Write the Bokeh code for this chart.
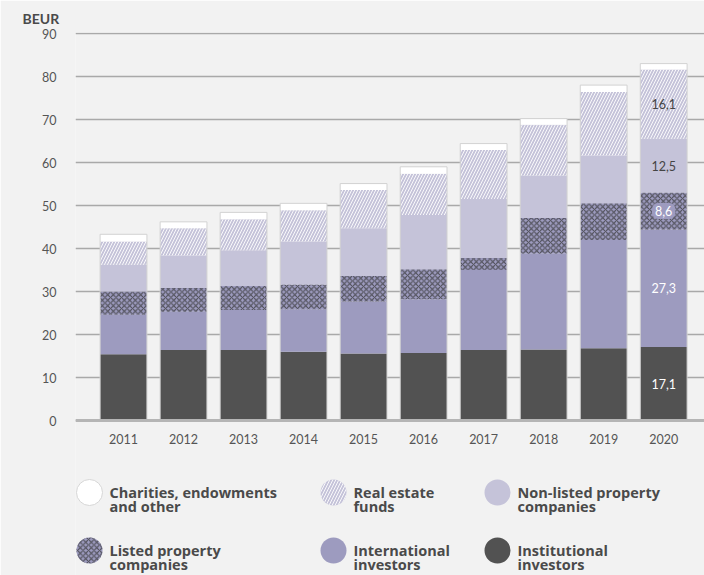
from bokeh.plotting import figure
from bokeh.models import ColumnDataSource, Range1d, FixedTicker, LinearAxis
from bokeh.core.properties import value
from bokeh.embed import file_html
from bokeh.resources import INLINE

years = [2011, 2012, 2013, 2014, 2015, 2016, 2017, 2018, 2019, 2020]
institutional = [15.4, 16.4, 16.4, 16.0, 15.6, 15.7, 16.4, 16.5, 16.8, 17.1]
international = [9.2, 8.9, 9.3, 9.9, 12.1, 12.5, 18.6, 22.3, 25.2, 27.3]
listed = [5.4, 5.5, 5.6, 5.7, 5.9, 7.0, 2.8, 8.3, 8.5, 8.6]
non_listed = [6.2, 7.6, 8.3, 10.0, 11.1, 12.6, 13.7, 9.8, 11.1, 12.5]
real_estate = [5.4, 6.3, 7.2, 7.3, 8.9, 9.6, 11.4, 11.9, 14.8, 16.1]
charities = [1.7, 1.5, 1.6, 1.6, 1.5, 1.6, 1.5, 1.4, 1.6, 1.4]
y_ticks = [0, 10, 20, 30, 40, 50, 60, 70, 80, 90]
unit_label = "BEUR"

BG = "#f2f2f2"
FONT = "Lato"
LFONT = "Open Sans"
TXT = "#4a4a4a"

# series bottom to top
series = [
    dict(name="Institutional\ninvestors", vals=institutional, fill="#525252",
         hatch=None, hcol=None, lab_col="white"),
    dict(name="International\ninvestors", vals=international, fill="#9d9bbf",
         hatch=None, hcol=None, lab_col="white"),
    dict(name="Listed property\ncompanies", vals=listed, fill="#9d9bbf",
         hatch="x", hcol="#4f4f58", lab_col="white"),
    dict(name="Non-listed property\ncompanies", vals=non_listed, fill="#c5c3d9",
         hatch=None, hcol=None, lab_col="#444444"),
    dict(name="Real estate\nfunds", vals=real_estate, fill="#c5c3d9",
         hatch="/", hcol="white", lab_col="#444444"),
    dict(name="Charities, endowments\nand other", vals=charities, fill="white",
         hatch=None, hcol=None, lab_col=None),
]
HATCH = {"x": dict(hatch_scale=5.5, hatch_weight=1.1),
         "/": dict(hatch_scale=6, hatch_weight=0.9)}

W, H = 704, 575
LEFT, TOP = 75, 32
ZERO_PX = 420.0     # pixel row of value 0
PX_PER_UNIT = 4.3

p = figure(width=W, height=H, output_backend="svg", toolbar_location=None,
           x_range=Range1d(2010.2, 2020.68),
           y_range=Range1d(-(H - ZERO_PX) / PX_PER_UNIT,
                           (ZERO_PX - TOP) / PX_PER_UNIT),
           min_border_left=LEFT, min_border_right=0, min_border_top=TOP,
           min_border_bottom=0, x_axis_location=None)
p.background_fill_color = BG
p.border_fill_color = BG
p.outline_line_color = None

# legend coordinate system (pixels of the canvas)
p.extra_x_ranges = {"lg": Range1d(LEFT, W)}
p.extra_y_ranges = {"lg": Range1d(H, TOP)}

p.title.text = unit_label
p.title.align = "left"
p.title.offset = -53
p.title.text_font = FONT
p.title.text_font_size = "14px"
p.title.text_font_style = "bold"
p.title.text_color = TXT
p.title.standoff = 11

BW = 0.78
bottom = [0.0] * len(years)
for s in series:
    top = [b + v for b, v in zip(bottom, s["vals"])]
    src = ColumnDataSource(dict(x=years, bottom=bottom, top=top))
    kw = dict(x="x", bottom="bottom", top="top", width=BW, source=src,
              fill_color=s["fill"], line_color=None)
    if s["hatch"]:
        kw.update(hatch_pattern=s["hatch"], hatch_color=s["hcol"],
                  **HATCH[s["hatch"]])
    p.vbar(**kw)
    s["bottom"] = bottom
    s["top"] = top
    bottom = top

# outer outline of each bar
p.vbar(x=years, bottom=0, top=bottom, width=BW, fill_color=None,
       line_color="#d2d2d2", line_width=1)

# value labels for the last year
for s in series:
    if s["lab_col"] is None:
        continue
    v = s["vals"][-1]
    ymid = (s["bottom"][-1] + s["top"][-1]) / 2
    txt = f"{v:.1f}".replace(".", ",")
    kw = dict(x=[years[-1]], y=[ymid], text=[txt], text_align="center",
              text_baseline="middle", text_color=s["lab_col"],
              text_font=value(FONT), text_font_size="12.5px")
    if s["hatch"] == "x":
        kw.update(background_fill_color=s["fill"], border_radius=6, padding=3)
    p.text(**kw)

p.xgrid.grid_line_color = None
p.ygrid.grid_line_color = "#a9a9a9"
p.ygrid.grid_line_width = 1.5
p.ygrid.ticker = FixedTicker(ticks=y_ticks)

p.yaxis.ticker = FixedTicker(ticks=y_ticks)
p.yaxis.axis_line_color = None
p.yaxis.major_tick_line_color = None
p.yaxis.minor_tick_line_color = None
p.yaxis.major_label_standoff = 13
p.yaxis.major_label_text_font = FONT
p.yaxis.major_label_text_font_size = "12.5px"
p.yaxis.major_label_text_color = "#555555"

xax = LinearAxis(ticker=FixedTicker(ticks=years), fixed_location=0)
xax.axis_line_color = "#b5b5b5"
xax.axis_line_width = 3
xax.major_tick_line_color = None
xax.minor_tick_line_color = None
xax.major_label_standoff = 7
xax.major_label_text_font = FONT
xax.major_label_text_font_size = "12.5px"
xax.major_label_text_color = "#555555"
p.add_layout(xax, "below")

# legend drawn in canvas pixel coordinates
legend_order = [series[5], series[4], series[3], series[2], series[1], series[0]]
col_x = [89, 333, 497]
row_y = [492, 550]
for i, s in enumerate(legend_order):
    cx = col_x[i % 3]
    cy = row_y[i // 3]
    kw = dict(x=[cx], y=[cy], marker="circle", size=26, fill_color=s["fill"],
              line_color="#d6d6d6" if s["fill"] == "white" else None,
              x_range_name="lg", y_range_name="lg")
    if s["hatch"]:
        kw.update(hatch_pattern=s["hatch"], hatch_color=s["hcol"],
                  **HATCH[s["hatch"]])
    p.scatter(**kw)
    p.text(x=[cx + 20], y=[cy - 10], text=[s["name"]], text_align="left",
           text_baseline="top", text_color=TXT, text_font=value(LFONT),
           text_font_size="14.5px", text_font_style="bold",
           text_line_height=0.78, x_range_name="lg", y_range_name="lg")

open("out.html", "w").write(file_html(p, INLINE))
